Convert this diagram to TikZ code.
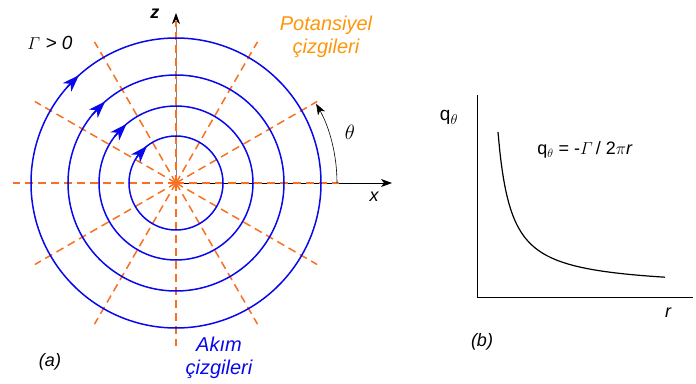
\documentclass[tikz,border=0pt]{standalone}
\usepackage{amsmath}
\usepackage{fontspec}
\setmainfont{Liberation Sans}
\usepackage{tikz}
\usetikzlibrary{arrows.meta,positioning,calc}
\definecolor{potorange}{RGB}{250,112,32}
\definecolor{pottext}{RGB}{255,150,10}
\definecolor{akimblue}{RGB}{8,8,235}
\begin{document}
\begin{tikzpicture}[
  x=1pt,y=1pt,
  lbl/.style={inner sep=0pt,font=\fontsize{18}{20}\selectfont\itshape},
  bigl/.style={inner sep=0pt,font=\fontsize{20}{23}\selectfont\itshape,align=center},
  potline/.style={potorange,line width=1.5pt,dash pattern=on 8pt off 5pt},
  akimline/.style={akimblue,line width=1.5pt},
  axis/.style={line width=0.8pt},
  >={Stealth[length=11pt,width=8pt,inset=3pt]}
]
\useasboundingbox (-176,-200) rectangle (520,183);
\coordinate (O) at (0,0);
% axes
\coordinate (ztop) at (0,170);
\coordinate (xend) at (216,0);
\draw[axis,gray,-{Stealth[length=11pt,width=8pt,inset=3pt,color=black]}] (O) -- (ztop);
\draw[axis,->] (O) -- (xend);
% potential lines
\foreach \a in {0,30,...,330}
  \draw[potline] (O) -- (\a:163);
% stream lines
\foreach \r/\d in {47/6,77/4,108/3,145/2}{
  \draw[akimline] (O) circle (\r);
  \draw[akimline,-{Stealth[length=17pt,width=12pt,inset=5pt]}]
    (135+\d*2:\r) -- (134-\d:\r);
}
\draw[line width=0.6pt,->] (161,0) arc (0:29.5:161);
\node[inner sep=0pt,font=\fontsize{18}{20}\selectfont\bfseries\itshape] (zl) at (-21,169) {z};
\node[lbl] (xl) at (198,-14) {x};
\node[inner sep=0pt,font=\fontsize{20}{22}\selectfont] (th) at (174,51) {$\theta$};
\node[inner sep=0pt,font=\fontsize{19}{21}\selectfont\itshape] (gam) at (-126,140) {$\varGamma$ > 0};
\node[bigl,text=pottext] (pot) at (150,146) {Potansiyel\\çizgileri};
\node[bigl,text=akimblue] (akim) at (43,-175) {Akım\\çizgileri};
\node[lbl] (la) at (-126,-179) {(a)};
% q_theta versus r
\coordinate (b0) at (301,-114);
\coordinate (btop) at (301,88);
\coordinate (bend) at (517,-114);
\draw[axis] (btop) -- (b0) -- (bend);
\draw[line width=1.2pt] plot[domain=322:489,samples=80,smooth] (\x,{-105.5+2035/(\x-309)});
\node[inner sep=0pt,font=\fontsize{19}{21}\selectfont] (ql) at (273,66) {q\textsubscript{$\theta$}};
\node[inner sep=0pt,font=\fontsize{18}{20}\selectfont] (form) at (409,33)
  {q\textsubscript{$\theta$} = -$\varGamma$\,/ 2$\pi$\textit{r}};
\node[lbl] (rl) at (492,-130) {r};
\node[lbl] (lb) at (306,-159) {(b)};
\end{tikzpicture}
\end{document}
